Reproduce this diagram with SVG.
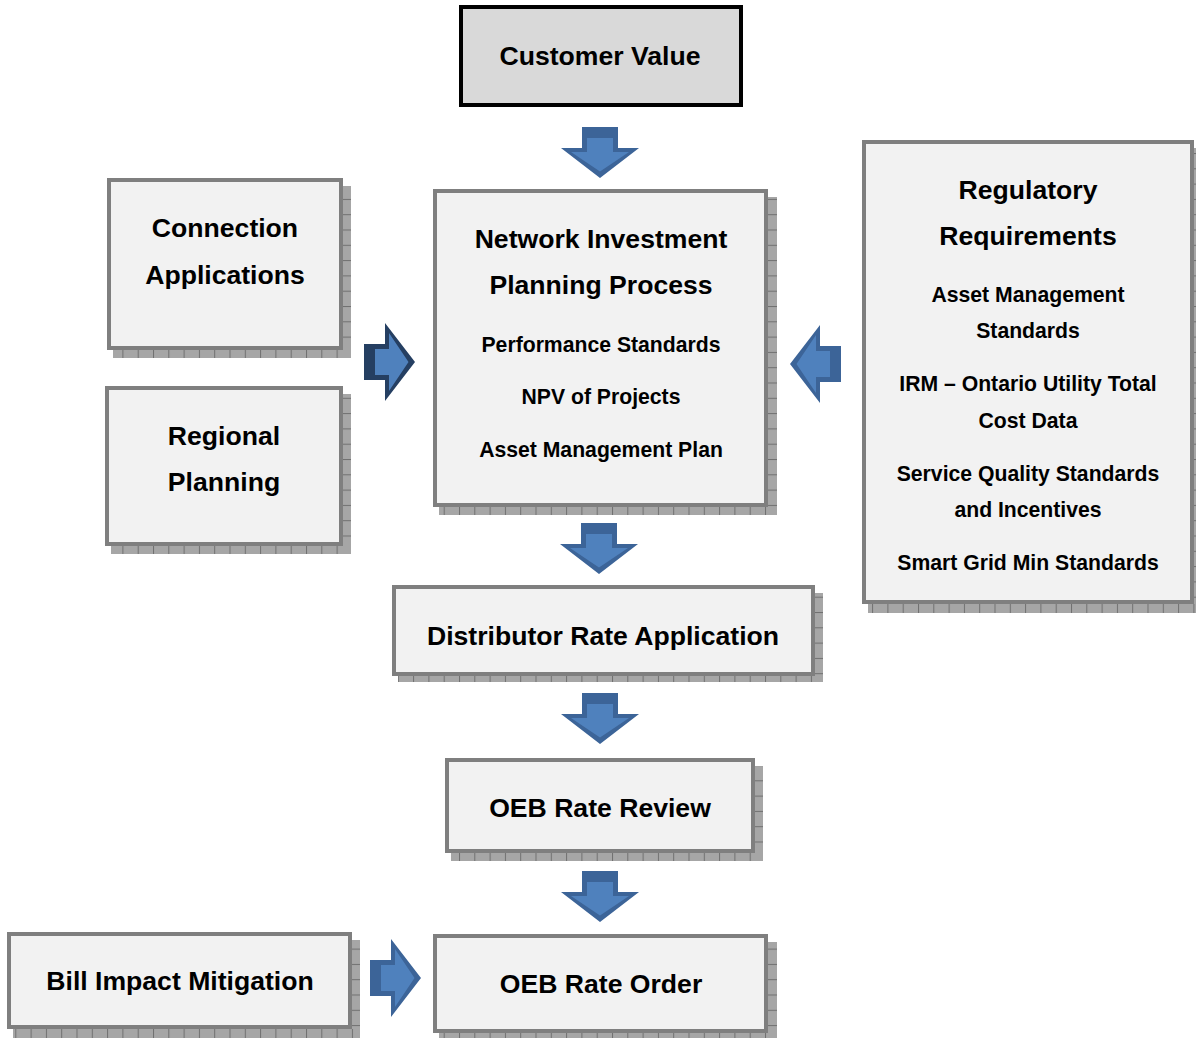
<svg xmlns="http://www.w3.org/2000/svg" width="1196" height="1038" viewBox="0 0 1196 1038">
  <style>
    .box { fill: #f2f2f2; stroke: #7f7f7f; stroke-width: 4; }
    .top { fill: #d9d9d9; stroke: #000; stroke-width: 4; }
    .shV { fill: url(#tickV); }
    .shH { fill: url(#tickH); }
    text { font-family: "Liberation Sans", Arial, sans-serif; font-weight: bold; fill: #000; text-anchor: middle; }
    .t { font-size: 26.6px; }
    .s { font-size: 21.2px; }
    .arOut { fill: var(--edge, #3c6498); }
    .arIn { fill: #4f81bd; }
    .dark { --edge: #253f62; }
  </style>
  <defs>
    <!-- shadow strip textures with tick marks -->
    <pattern id="tickV" patternUnits="userSpaceOnUse" width="15.3" height="20">
      <rect width="15.3" height="20" fill="#a6a6a6"/>
      <rect x="0" y="0" width="1" height="20" fill="#707070"/>
    </pattern>
    <pattern id="tickH" patternUnits="userSpaceOnUse" width="20" height="15.3">
      <rect width="20" height="15.3" fill="#a6a6a6"/>
      <rect x="0" y="0" width="20" height="1" fill="#707070"/>
    </pattern>
    <!-- block arrow pointing down, origin at the shaft's top centre -->
    <g id="arrow">
      <path class="arOut" d="M-18,0 H18 V21 H39 L0,51 L-39,21 H-18 Z"/>
      <path class="arIn" d="M-13,11 H13 V25 H29 L0,44.5 L-29,25 H-13 Z"/>
    </g>
  </defs>

  <rect width="1196" height="1038" fill="#fff"/>

  <!-- connectors -->
  <g id="connectors">
    <use href="#arrow" transform="translate(600,127)"/>
    <use href="#arrow" transform="translate(599,523)"/>
    <use href="#arrow" transform="translate(600,693)"/>
    <use href="#arrow" transform="translate(600,871)"/>
    <use class="dark" href="#arrow" transform="translate(364,362) rotate(-90)"/>
    <use href="#arrow" transform="translate(841,364) rotate(90)"/>
    <use href="#arrow" transform="translate(370,978) rotate(-90)"/>
  </g>

  <g id="customer-value">
    <rect class="top" x="461" y="7" width="280" height="98"/>
    <text class="t" x="600" y="65">Customer Value</text>
  </g>

  <g id="connection-applications">
    <rect class="shH" x="343" y="186" width="8" height="172"/>
    <rect class="shV" x="113" y="350" width="238" height="8"/>
    <rect class="box" x="109" y="180" width="232" height="168"/>
    <text class="t" x="225" y="237">Connection</text>
    <text class="t" x="225" y="284">Applications</text>
  </g>

  <g id="regional-planning">
    <rect class="shH" x="343" y="394" width="8" height="160"/>
    <rect class="shV" x="111" y="546" width="240" height="8"/>
    <rect class="box" x="107" y="388" width="234" height="156"/>
    <text class="t" x="224" y="445">Regional</text>
    <text class="t" x="224" y="491">Planning</text>
  </g>

  <g id="network-investment">
    <rect class="shH" x="768" y="197" width="9" height="318"/>
    <rect class="shV" x="439" y="507" width="338" height="8"/>
    <rect class="box" x="435" y="191" width="331" height="314"/>
    <text class="t" x="601" y="248">Network Investment</text>
    <text class="t" x="601" y="294">Planning Process</text>
    <text class="s" x="601" y="352">Performance Standards</text>
    <text class="s" x="601" y="404">NPV of Projects</text>
    <text class="s" x="601" y="457">Asset Management Plan</text>
  </g>

  <g id="regulatory-requirements">
    <rect class="shH" x="1194" y="148" width="8" height="465"/>
    <rect class="shV" x="868" y="604" width="334" height="9"/>
    <rect class="box" x="864" y="142" width="328" height="460"/>
    <text class="t" x="1028" y="199">Regulatory</text>
    <text class="t" x="1028" y="245">Requirements</text>
    <text class="s" x="1028" y="302">Asset Management</text>
    <text class="s" x="1028" y="338">Standards</text>
    <text class="s" x="1028" y="391">IRM – Ontario Utility Total</text>
    <text class="s" x="1028" y="428">Cost Data</text>
    <text class="s" x="1028" y="481">Service Quality Standards</text>
    <text class="s" x="1028" y="517">and Incentives</text>
    <text class="s" x="1028" y="570">Smart Grid Min Standards</text>
  </g>

  <g id="distributor-rate-application">
    <rect class="shH" x="815" y="593" width="8" height="89"/>
    <rect class="shV" x="398" y="676" width="425" height="6"/>
    <rect class="box" x="394" y="587" width="419" height="87"/>
    <text class="t" x="603" y="645">Distributor Rate Application</text>
  </g>

  <g id="oeb-rate-review">
    <rect class="shH" x="755" y="766" width="8" height="95"/>
    <rect class="shV" x="451" y="853" width="312" height="8"/>
    <rect class="box" x="447" y="760" width="306" height="91"/>
    <text class="t" x="600" y="817">OEB Rate Review</text>
  </g>

  <g id="bill-impact-mitigation">
    <rect class="shH" x="352" y="940" width="8" height="98"/>
    <rect class="shV" x="13" y="1029" width="347" height="9"/>
    <rect class="box" x="9" y="934" width="341" height="93"/>
    <text class="t" x="180" y="990">Bill Impact Mitigation</text>
  </g>

  <g id="oeb-rate-order">
    <rect class="shH" x="768" y="942" width="9" height="96"/>
    <rect class="shV" x="439" y="1033" width="338" height="5"/>
    <rect class="box" x="435" y="936" width="331" height="95"/>
    <text class="t" x="601" y="993">OEB Rate Order</text>
  </g>
</svg>
